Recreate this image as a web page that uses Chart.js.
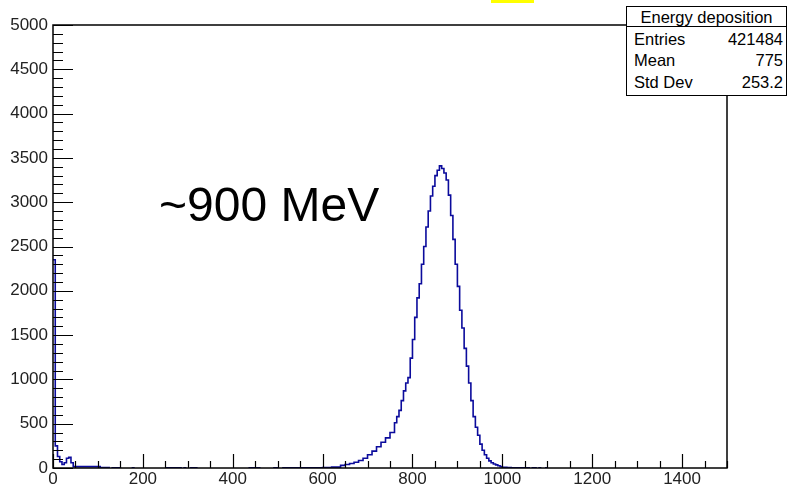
<!DOCTYPE html>
<html>
<head>
<meta charset="utf-8">
<script src="https://cdn.jsdelivr.net/npm/chart.js@4.4.1/dist/chart.umd.min.js"></script>
<style>
  body { margin: 0; background: #fff; }
  #wrap { position: relative; width: 788px; height: 488px; font-family: "Liberation Sans", Arial, sans-serif; }
  #hist { position: absolute; left: 0; top: 0; }
  .stats { position: absolute; left: 626px; top: 6px; width: 159px; height: 88px; border: 1.5px solid #000; background: #fff; color: #000; font-size: 16.5px; }
  .stats .title { position: absolute; left: 0; top: 0; width: 100%; height: 19px; line-height: 20px; text-align: center; border-bottom: 1.5px solid #000; }
  .stats .row { position: absolute; left: 7px; right: 3px; height: 20px; line-height: 20px; }
  .stats .row span:last-child { position: absolute; right: 0; }
  .note { position: absolute; left: 159px; top: 181px; font-size: 48px; line-height: 1; color: #000; }
  .mark { position: absolute; left: 491px; top: 0; width: 43px; height: 3px; background: #ffff00; }
</style>
</head>
<body>
<div id="wrap">
  <canvas id="hist" width="788" height="488"></canvas>
  <div class="mark"></div>
  <div class="note">~900 MeV</div>
  <div class="stats">
    <div class="title">Energy deposition</div>
    <div class="row" style="top:22px"><span>Entries</span><span>421484</span></div>
    <div class="row" style="top:43px"><span>Mean</span><span>775</span></div>
    <div class="row" style="top:65px"><span>Std Dev</span><span>253.2</span></div>
  </div>
</div>
<script>
// bin low edges (MeV) and counts, a new entry only where the count changes
const binEdges = [0, 5, 10, 15, 20, 25, 30, 35, 40, 45, 105, 125, 130, 150, 175, 180, 250, 285, 290, 295, 305, 320,
  435, 460, 490, 500, 510, 600, 620, 640, 650, 660, 670, 680, 690, 700, 710, 720, 730, 740, 750, 760, 765, 770,
  775, 780, 785, 790, 795, 800, 805, 810, 815, 820, 825, 830, 835, 840, 845, 850, 855, 860, 865, 870, 875, 880,
  885, 890, 895, 900, 905, 910, 915, 920, 925, 930, 935, 940, 945, 950, 955, 960, 965, 970, 975, 980, 985, 990,
  995, 1000, 1010, 1020, 1040, 1060, 1065, 1075, 1080, 1085, 1095, 1100, 1500];
const binCounts = [2350, 250, 130, 70, 40, 60, 110, 120, 60, 15, 5, 0, 3, 0, 2, 0, 2, 0, 2, 0, 2, 0,
  2, 0, 2, 0, 3, 5, 10, 30, 40, 50, 65, 85, 110, 150, 190, 240, 290, 340, 400, 510, 580, 650,
  760, 870, 960, 1020, 1240, 1450, 1700, 1920, 2080, 2300, 2500, 2720, 2900, 3070, 3180, 3300, 3360, 3410, 3380, 3330, 3250, 3080,
  2850, 2580, 2300, 2050, 1780, 1580, 1350, 1150, 960, 760, 580, 460, 370, 270, 200, 150, 110, 80, 60, 45, 35, 25,
  15, 8, 4, 2, 1, 0, 1, 0, 1, 0, 1, 0, 0];

const xTickLabels = [0, 200, 400, 600, 800, 1000, 1200, 1400];
const yTickLabels = [0, 500, 1000, 1500, 2000, 2500, 3000, 3500, 4000, 4500, 5000];

const tickFont = { family: '"Liberation Sans", Arial, sans-serif', size: 17 };

// ROOT style frame with inward major/minor ticks
const frameTicks = {
  id: 'frameTicks',
  afterDraw(chart) {
    const { ctx, chartArea: a, scales } = chart;
    ctx.save();
    ctx.strokeStyle = '#000';
    ctx.lineWidth = 1.5;
    ctx.strokeRect(a.left, a.top, a.right - a.left, a.bottom - a.top);
    ctx.lineWidth = 1.2;
    ctx.beginPath();
    for (let v = 0; v <= 5000; v += 100) {
      const y = Math.round(scales.y.getPixelForValue(v)) + 0.5;
      const len = v % 500 === 0 ? 20 : 10;
      ctx.moveTo(a.left, y);
      ctx.lineTo(a.left + len, y);
    }
    for (let v = 0; v <= 1500; v += 50) {
      const x = Math.round(scales.x.getPixelForValue(v)) + 0.5;
      const len = v % 200 === 0 ? 14 : 7;
      ctx.moveTo(x, a.bottom);
      ctx.lineTo(x, a.bottom - len);
    }
    ctx.stroke();
    ctx.restore();
  }
};

new Chart(document.getElementById('hist').getContext('2d'), {
  type: 'line',
  data: {
    datasets: [{
      label: 'Energy deposition',
      data: binEdges.map((e, i) => ({ x: e, y: binCounts[i] })),
      stepped: true,
      borderColor: '#0b0b9c',
      borderWidth: 1.6,
      pointRadius: 0,
      fill: false,
      segment: {
        borderColor: c => (c.p0.parsed.y === 0 ? 'rgba(0,0,0,0)' : undefined)
      }
    }]
  },
  options: {
    responsive: false,
    animation: false,
    layout: { padding: { top: 25, right: 61, left: 0, bottom: 0 } },
    plugins: { legend: { display: false }, tooltip: { enabled: false } },
    scales: {
      x: {
        type: 'linear',
        min: 0,
        max: 1500,
        afterFit: s => { s.height = 20; },
        afterBuildTicks: s => { s.ticks = xTickLabels.map(v => ({ value: v })); },
        ticks: { font: tickFont, color: '#222', padding: 1, maxRotation: 0, autoSkip: false, callback: v => String(v) },
        grid: { display: false, drawTicks: false },
        border: { display: false }
      },
      y: {
        min: 0,
        max: 5000,
        afterFit: s => { s.width = 53; },
        afterBuildTicks: s => { s.ticks = yTickLabels.map(v => ({ value: v })); },
        ticks: { font: tickFont, color: '#222', padding: 5, autoSkip: false, callback: v => String(v) },
        grid: { display: false, drawTicks: false },
        border: { display: false }
      }
    }
  },
  plugins: [frameTicks]
});
</script>
</body>
</html>
